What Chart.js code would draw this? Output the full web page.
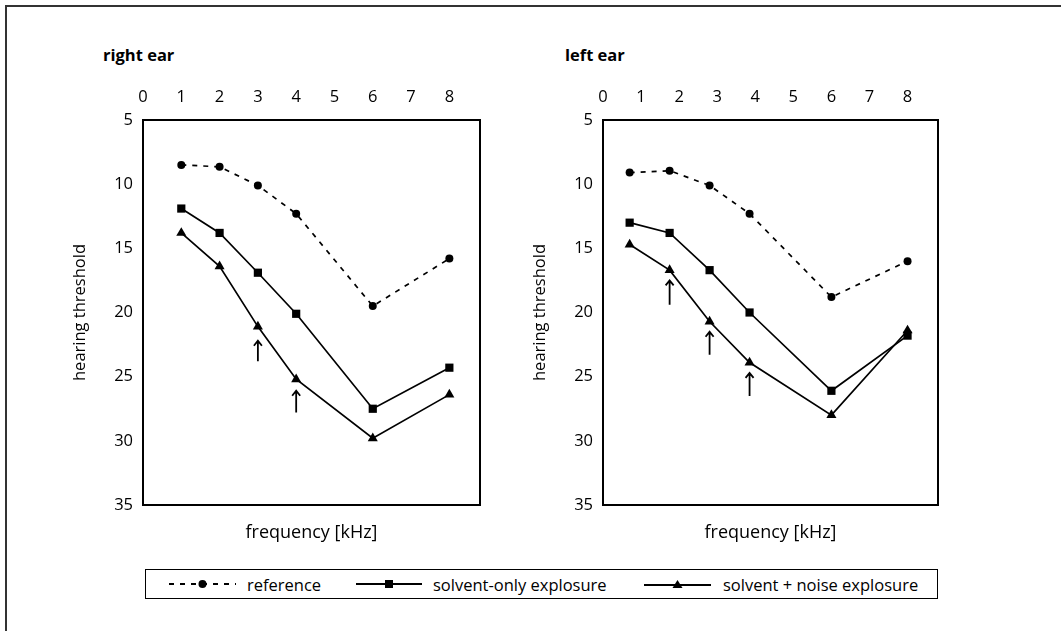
<!DOCTYPE html>
<html>
<head>
<meta charset="utf-8">
<script src="https://cdn.jsdelivr.net/npm/chart.js@4.4.1/dist/chart.umd.min.js"></script>
<style>
  html, body { margin: 0; background: #fff; font-family: "Open Sans", sans-serif; color: #000; overflow: hidden; }
  #page { position: relative; width: 1061px; height: 631px; overflow: hidden; }
  #frame { position: absolute; left: 5px; top: 5px; width: 1100px; height: 700px;
           border-top: 2px solid #333; border-left: 2px solid #333; }
  .panel-title { position: absolute; top: 43px; font-weight: 700; font-size: 16.5px; }
  canvas { position: absolute; top: 70px; }
  #legend { position: absolute; left: 145px; top: 569px; width: 791px; height: 28px;
            border: 1.5px solid #000; }
  .lg-item { position: absolute; top: 0; height: 28px; display: flex; align-items: center; font-size: 16.5px; }
</style>
</head>
<body>
<div id="page">
  <div id="frame"></div>
  <div class="panel-title" style="left:103px">right ear</div>
  <div class="panel-title" style="left:565px">left ear</div>
  <canvas id="rightEar" width="440" height="490" style="left:60px"></canvas>
  <canvas id="leftEar" width="440" height="490" style="left:520px"></canvas>

  <div id="legend">
    <div class="lg-item" style="left:23px">
      <svg width="67" height="12"><line x1="0" y1="6" x2="67" y2="6" stroke="#000" stroke-width="1.8" stroke-dasharray="5,6"/><circle cx="33.5" cy="6" r="4" fill="#000"/></svg>
    </div>
    <div class="lg-item" style="left:101px">reference</div>
    <div class="lg-item" style="left:210px">
      <svg width="66" height="12"><line x1="0" y1="6" x2="66" y2="6" stroke="#000" stroke-width="1.8"/><rect x="29" y="2" width="8" height="8" fill="#000"/></svg>
    </div>
    <div class="lg-item" style="left:287px">solvent-only explosure</div>
    <div class="lg-item" style="left:498px">
      <svg width="67" height="12"><line x1="0" y1="7" x2="67" y2="7" stroke="#000" stroke-width="1.8"/><polygon points="28.5,10 38.5,10 33.5,2" fill="#000"/></svg>
    </div>
    <div class="lg-item" style="left:577px">solvent + noise explosure</div>
  </div>
</div>

<script>
// ---- data ----
const xTicks = [0, 1, 2, 3, 4, 5, 6, 7, 8];
const yTicks = [5, 10, 15, 20, 25, 30, 35];

// right ear
const freqRight = [1, 2, 3, 4, 6, 8];
const refRight = [8.5, 8.65, 10.1, 12.3, 19.5, 15.8];
const solventRight = [11.9, 13.8, 16.9, 20.1, 27.5, 24.3];
const noiseRight = [13.8, 16.4, 21.1, 25.2, 29.8, 26.4];
const arrowXRight = [3, 4];
const arrowTopRight = [22.2, 26.1];
const arrowBottomRight = [23.8, 27.8];

// left ear
const freqLeft = [0.7, 1.75, 2.8, 3.85, 6, 8];
const refLeft = [9.1, 8.95, 10.1, 12.3, 18.8, 16.0];
const solventLeft = [13.0, 13.8, 16.7, 20.0, 26.1, 21.8];
const noiseLeft = [14.7, 16.7, 20.7, 23.9, 28.0, 21.4];
const arrowXLeft = [1.75, 2.8, 3.85];
const arrowTopLeft = [17.5, 21.5, 24.7];
const arrowBottomLeft = [19.4, 23.3, 26.5];

Chart.defaults.font.family = '"Open Sans", sans-serif';
Chart.defaults.font.size = 16.5;
Chart.defaults.color = '#000';

const toPoints = (xs, ys) => xs.map((x, i) => ({ x: x, y: ys[i] }));

// black frame round the plot area
const boxPlugin = {
  id: 'plotBox',
  beforeDatasetsDraw(chart) {
    const { ctx, chartArea: a } = chart;
    ctx.save();
    ctx.strokeStyle = '#000';
    ctx.lineWidth = 2;
    ctx.strokeRect(a.left, a.top, a.right - a.left, a.bottom - a.top);
    ctx.restore();
  }
};

// small upward arrows under the marked points
function arrowPlugin(xs, tops, bottoms) {
  return {
    id: 'arrows',
    afterDatasetsDraw(chart) {
      const { ctx, scales } = chart;
      ctx.save();
      ctx.strokeStyle = '#000';
      ctx.lineWidth = 1.8;
      xs.forEach((v, i) => {
        const px = scales.x.getPixelForValue(v);
        const top = scales.y.getPixelForValue(tops[i]);
        const bot = scales.y.getPixelForValue(bottoms[i]);
        ctx.beginPath();
        ctx.moveTo(px, bot);
        ctx.lineTo(px, top);
        ctx.moveTo(px - 4, top + 5);
        ctx.lineTo(px, top);
        ctx.lineTo(px + 4, top + 5);
        ctx.stroke();
      });
      ctx.restore();
    }
  };
}

function makeChart(id, xs, ref, solvent, noise, arrows, padRight) {
  return new Chart(document.getElementById(id), {
    type: 'scatter',
    data: {
      datasets: [
        {
          label: 'reference',
          data: toPoints(xs, ref),
          showLine: true,
          borderColor: '#000',
          borderWidth: 1.7,
          borderDash: [5, 6],
          pointStyle: 'circle',
          pointRadius: 4,
          pointBackgroundColor: '#000',
          pointBorderColor: '#000',
          pointBorderWidth: 0
        },
        {
          label: 'solvent-only explosure',
          data: toPoints(xs, solvent),
          showLine: true,
          borderColor: '#000',
          borderWidth: 1.7,
          pointStyle: 'rect',
          pointRadius: 5.8,
          pointBackgroundColor: '#000',
          pointBorderColor: '#000',
          pointBorderWidth: 0
        },
        {
          label: 'solvent + noise explosure',
          data: toPoints(xs, noise),
          showLine: true,
          borderColor: '#000',
          borderWidth: 1.7,
          pointStyle: 'triangle',
          pointRadius: 5.8,
          pointBackgroundColor: '#000',
          pointBorderColor: '#000',
          pointBorderWidth: 0
        }
      ]
    },
    options: {
      responsive: false,
      animation: false,
      clip: false,
      layout: { padding: { left: 0, top: 0, bottom: 0, right: padRight } },
      plugins: { legend: { display: false }, tooltip: { enabled: false } },
      scales: {
        x: {
          type: 'linear', position: 'top', min: 0, max: 8.8,
          grid: { display: false, drawTicks: false },
          border: { display: false },
          ticks: { padding: 13 },
          afterBuildTicks: (s) => { s.ticks = xTicks.map(v => ({ value: v })); },
          afterFit: (s) => { s.height = 50; }
        },
        x2: {
          type: 'linear', position: 'bottom', min: 0, max: 8.8,
          grid: { display: false, drawTicks: false },
          border: { display: false },
          ticks: { display: false },
          title: { display: true, text: 'frequency [kHz]', font: { size: 18 }, padding: { top: 0, bottom: 16 } },
          afterFit: (s) => { s.height = 55; }
        },
        y: {
          type: 'linear', reverse: true, min: 5, max: 35,
          grid: { display: false, drawTicks: false },
          border: { display: false },
          ticks: { padding: 10 },
          afterBuildTicks: (s) => { s.ticks = yTicks.map(v => ({ value: v })); },
          title: { display: true, text: 'hearing threshold', padding: { top: 10, bottom: 0 } },
          afterFit: (s) => { s.width = 83; }
        }
      }
    },
    plugins: [boxPlugin, arrows]
  });
}

makeChart('rightEar', freqRight, refRight, solventRight, noiseRight,
  arrowPlugin(arrowXRight, arrowTopRight, arrowBottomRight), 20);
makeChart('leftEar', freqLeft, refLeft, solventLeft, noiseLeft,
  arrowPlugin(arrowXLeft, arrowTopLeft, arrowBottomLeft), 22);
</script>
</body>
</html>
